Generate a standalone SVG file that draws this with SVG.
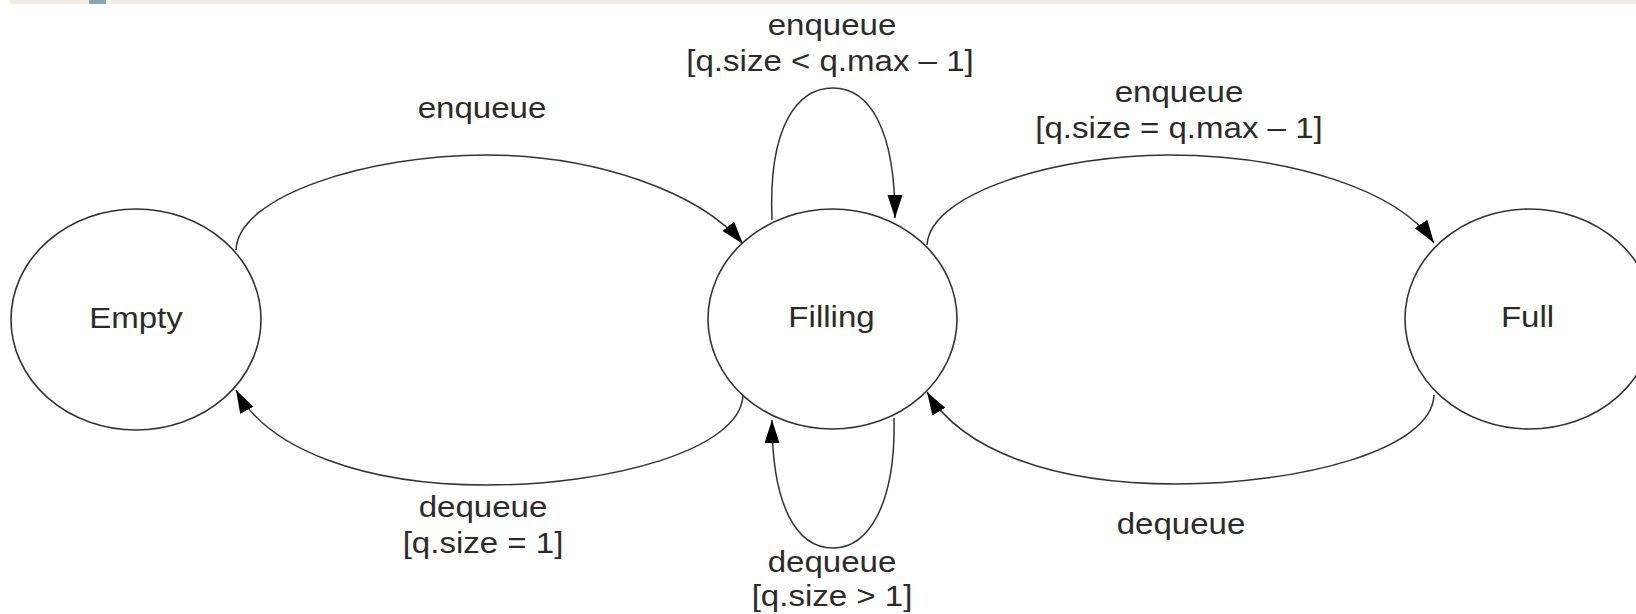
<svg xmlns="http://www.w3.org/2000/svg" width="1636" height="614" viewBox="0 0 1636 614">
  <style>
    .state { fill: #ffffff; stroke: #333333; stroke-width: 1.6; }
    .edge { fill: none; stroke: #333333; stroke-width: 1.5; marker-end: url(#arrow); }
    .txt { font-family: "Liberation Sans", Arial, sans-serif; font-size: 29px; fill: #2b2b2b; text-anchor: middle; }
  </style>
  <defs>
    <marker id="arrow" markerUnits="userSpaceOnUse" markerWidth="24" markerHeight="16" refX="23" refY="7.5" orient="auto">
      <path d="M0,0 L23,7.5 L0,15 z" fill="#000000"/>
    </marker>
  </defs>

  <rect x="0" y="0" width="1636" height="614" fill="#ffffff"/>
  <!-- header strip -->
  <rect x="10" y="0" width="1626" height="4" fill="#efeee1"/>
  <rect x="89" y="0" width="17" height="4" fill="#8ba5b5"/>

  <g id="edges">
    <!-- Empty to Filling -->
    <path class="edge" d="M236,250 C238,195 370,155 486,155 C595,155 700,192 743,244"/>
    <!-- Filling to Empty -->
    <path class="edge" d="M743,395 C741,450 610,485 486,485 C365,485 268,450 236,390"/>
    <!-- Filling self loop, top -->
    <path class="edge" d="M772,220 C768,125 798,88 833,88 C870,88 895,130 895,218"/>
    <!-- Filling self loop, bottom -->
    <path class="edge" d="M894,418 C896,505 868,548 833,548 C796,548 772,505 772,420"/>
    <!-- Filling to Full -->
    <path class="edge" d="M927,245 C930,192 1060,155 1168,155 C1290,155 1398,190 1434,243"/>
    <!-- Full to Filling -->
    <path class="edge" d="M1434,395 C1432,450 1300,484 1176,484 C1052,484 962,450 927,392"/>
  </g>

  <g id="edge-labels">
    <text class="txt" transform="translate(482,118) scale(1.14,1)">enqueue</text>
    <text class="txt" transform="translate(832,35) scale(1.14,1)">enqueue</text>
    <text class="txt" transform="translate(830,71) scale(1.14,1)">[q.size &lt; q.max – 1]</text>
    <text class="txt" transform="translate(1179,101.5) scale(1.14,1)">enqueue</text>
    <text class="txt" transform="translate(1179,137.5) scale(1.14,1)">[q.size = q.max – 1]</text>
    <text class="txt" transform="translate(483,517) scale(1.14,1)">dequeue</text>
    <text class="txt" transform="translate(483,553) scale(1.14,1)">[q.size = 1]</text>
    <text class="txt" transform="translate(832,572) scale(1.14,1)">dequeue</text>
    <text class="txt" transform="translate(832,606) scale(1.14,1)">[q.size &gt; 1]</text>
    <text class="txt" transform="translate(1181,534) scale(1.14,1)">dequeue</text>
  </g>

  <g id="node-empty">
    <ellipse class="state" cx="136" cy="319.5" rx="125" ry="110.5"/>
    <text class="txt" transform="translate(136,328) scale(1.14,1)">Empty</text>
  </g>
  <g id="node-filling">
    <ellipse class="state" cx="832.5" cy="319" rx="124.5" ry="110"/>
    <text class="txt" transform="translate(831.5,327) scale(1.14,1)">Filling</text>
  </g>
  <g id="node-full">
    <ellipse class="state" cx="1529.5" cy="319" rx="124.5" ry="110"/>
    <text class="txt" transform="translate(1527.5,327) scale(1.14,1)">Full</text>
  </g>
</svg>
